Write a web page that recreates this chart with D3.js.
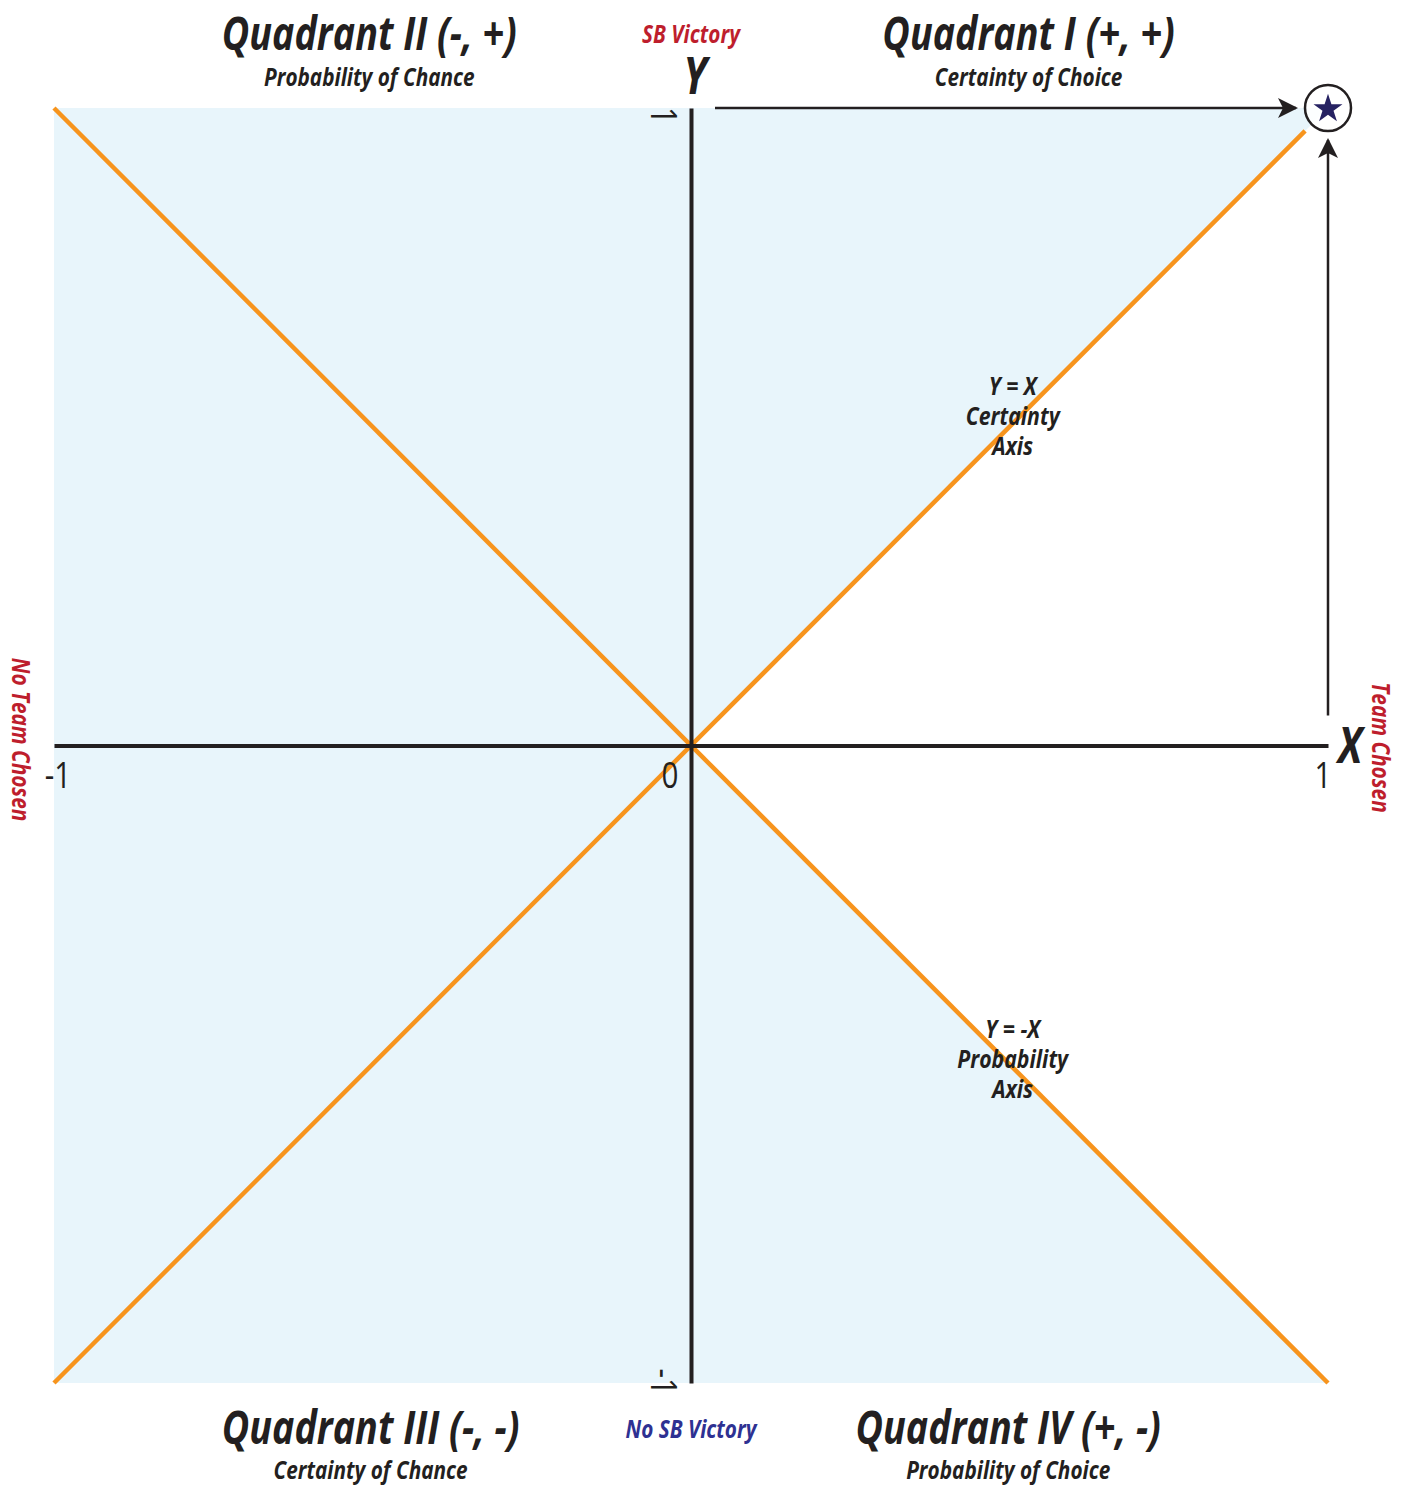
<!DOCTYPE html>
<html><head><meta charset="utf-8">
<script src="https://cdn.jsdelivr.net/npm/d3@7"></script>
<style>
body{margin:0;background:#fff;}
text{font-family:"Open Sans","Noto Sans","DejaVu Sans",sans-serif;font-style:italic;font-weight:700;fill:#231f20;}
</style></head><body>
<svg id="chart" width="1409" height="1488"></svg>
<script>
// ---- data ----
const domain = [-1, 1];
const xTicks = [-1, 0, 1];
const xTickLabels = ["-1", "0", "1"];
const yTicks = [1, -1];
const yTickLabels = ["1", "-1"];
const diagonalSlopes = [1, -1];
const diagonalLabels = [["Y = X", "Certainty", "Axis"], ["Y = -X", "Probability", "Axis"]];
const diagonalLabelAt = [0.505, -0.505];
const quadrantNames = ["Quadrant I (+, +)", "Quadrant II (-, +)", "Quadrant III (-, -)", "Quadrant IV (+, -)"];
const quadrantSubtitles = ["Certainty of Choice", "Probability of Chance", "Certainty of Chance", "Probability of Choice"];
const quadrantCenters = [[0.53, 1], [-0.505, 1], [-0.503, -1], [0.498, -1]];
const yEndLabels = ["SB Victory", "No SB Victory"];
const xEndLabels = ["Team Chosen", "No Team Chosen"];
const targetPoint = [1, 1];

// ---- layout ----
const svg = d3.select("#chart");
const x = d3.scaleLinear().domain(domain).range([54, 1328]);
const y = d3.scaleLinear().domain(domain).range([1383, 108]);
const ORANGE = "#f7941d", INK = "#231f20", BLUE = "#e8f5fb", RED = "#be1e2d", NAVY = "#2e3192";

function label(px, py, str, size, o = {}) {
  const t = svg.append("text")
    .attr("transform", `translate(${px},${py}) rotate(${o.rot || 0}) scale(${o.sx || 0.8},1)`)
    .attr("text-anchor", o.anchor || "middle")
    .style("font-size", size + "px")
    .text(str);
  if (o.fill) t.style("fill", o.fill);
  if (o.plain) t.style("font-style", "normal").style("font-weight", "normal");
  if (o.weight) t.style("font-weight", o.weight);
  return t;
}

const defs = svg.append("defs");
defs.append("marker").attr("id","ah").attr("viewBox","0 0 20 20").attr("refX",18).attr("refY",10)
  .attr("markerWidth",20).attr("markerHeight",20).attr("markerUnits","userSpaceOnUse").attr("orient","auto")
  .append("path").attr("d","M0,0 L20,10 L0,20 L5,10 Z").attr("fill",INK);

// shaded region: all but the right-hand wedge between the diagonals
const shade = [[-1,1],[1,1],[0,0],[1,-1],[-1,-1]];
svg.append("path").attr("d", d3.line().x(d=>x(d[0])).y(d=>y(d[1]))(shade)+"Z").attr("fill", BLUE);

// diagonals
diagonalSlopes.forEach((m)=>{
  const x1 = m > 0 ? 0.964 : 1;
  svg.append("line").attr("x1",x(-1)).attr("y1",y(-m)).attr("x2",x(x1)).attr("y2",y(m*x1))
    .attr("stroke",ORANGE).attr("stroke-width",4.5);
});

// axes
const gx = svg.append("g").attr("transform",`translate(0,${y(0)})`).call(d3.axisBottom(x).tickValues([]).tickSizeOuter(0));
gx.select(".domain").attr("stroke",INK).attr("stroke-width",4);
const gy = svg.append("g").attr("transform",`translate(${x(0)},0)`).call(d3.axisLeft(y).tickValues([]).tickSizeOuter(0));
gy.select(".domain").attr("stroke",INK).attr("stroke-width",4);

// x tick labels
xTicks.forEach((v,i)=>{
  const dx = v === 0 ? -21 : (v < 0 ? 4 : -5);
  label(x(v)+dx, y(0)+42, xTickLabels[i], 37, {plain:true, sx:0.8});
});
// y tick labels (rotated)
yTicks.forEach((v,i)=>{
  label(x(0)-40, y(v) + (v > 0 ? 16 : 12), yTickLabels[i], 37, {plain:true, sx:0.8, rot:90, anchor:"end"});
});

// axis names
label(x(0)+4, 94, "Y", 52, {sx:0.8});
label(x(1)+10, y(0)+17, "X", 50, {sx:0.8, anchor:"start"});

// end labels
label(x(0), 43, yEndLabels[0], 25, {fill:RED, sx:0.83});
label(x(0), 1438, yEndLabels[1], 25, {fill:NAVY, sx:0.83});
label(1372, y(0)+2, xEndLabels[0], 25, {fill:RED, rot:90, sx:0.83});
label(12, y(0)-6, xEndLabels[1], 25, {fill:RED, rot:90, sx:0.83});

// quadrant titles
quadrantNames.forEach((n,i)=>{
  const [cx, cy] = quadrantCenters[i];
  const top = cy > 0;
  label(x(cx), top ? 50 : 1444, n, 46, {sx:0.82});
  label(x(cx), top ? 86 : 1479, quadrantSubtitles[i], 25, {sx:0.83});
});

// diagonal labels
diagonalLabels.forEach((lines,i)=>{
  const cy = diagonalLabelAt[i];
  const base = y(cy) - 29;
  lines.forEach((t,j)=>{
    label(x(Math.abs(cy)), base + j*30, t, 25, {sx:0.85});
  });
});

// arrows to target
svg.append("line").attr("x1",x(0)+24).attr("y1",y(1)).attr("x2",x(targetPoint[0])-32).attr("y2",y(1))
  .attr("stroke",INK).attr("stroke-width",2.5).attr("marker-end","url(#ah)");
svg.append("line").attr("x1",x(1)).attr("y1",y(0)-30).attr("x2",x(1)).attr("y2",y(targetPoint[1])+32)
  .attr("stroke",INK).attr("stroke-width",2.5).attr("marker-end","url(#ah)");

// target circle + star
svg.append("circle").attr("cx",x(targetPoint[0])).attr("cy",y(targetPoint[1])).attr("r",23)
  .attr("fill","#fff").attr("fill-opacity",0.85).attr("stroke",INK).attr("stroke-width",2.5);
svg.append("path").attr("d",d3.symbol().type(d3.symbolStar).size(260)())
  .attr("transform",`translate(${x(targetPoint[0])},${y(targetPoint[1])+1})`).attr("fill","#262262");
</script>
</body></html>
